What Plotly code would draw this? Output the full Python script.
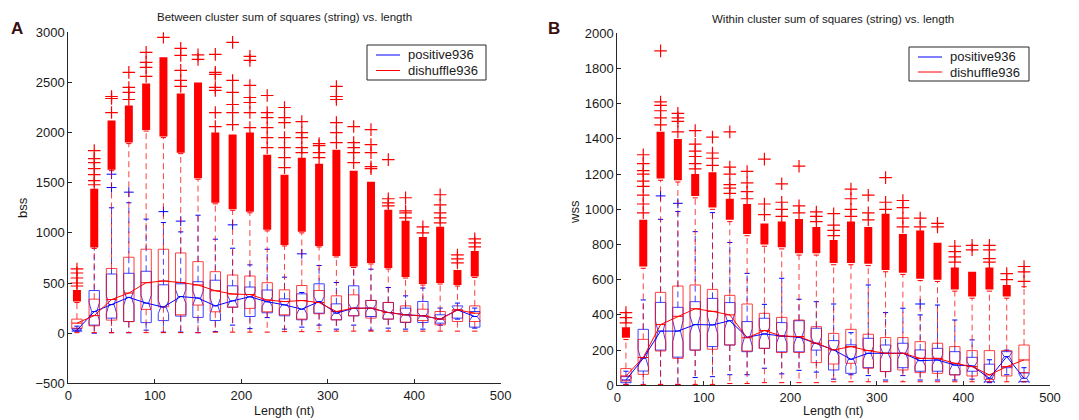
import plotly.graph_objects as go

# ---------------- data ----------------
lengths = [10, 30, 50, 70, 90, 110, 130, 150, 170, 190, 210, 230,
           250, 270, 290, 310, 330, 350, 370, 390, 410, 430, 450, 470]
series_names = ["positive936", "dishuffle936"]

# Panel A : between cluster sum of squares (bss)
A_pos_q1 = [20, 80, 150, 115, 105, 125, 170, 157, 126, 259, 166, 203, 173, 133, 199, 133, 173, 166, 140, 106, 106, 100, 150, 60]
A_pos_med = [30, 215, 285, 357, 300, 260, 365, 350, 272, 322, 363, 313, 282, 239, 315, 199, 249, 249, 206, 183, 173, 140, 232, 166]
A_pos_q3 = [45, 425, 590, 597, 617, 482, 492, 513, 528, 472, 460, 430, 342, 392, 492, 292, 472, 326, 306, 249, 316, 183, 272, 216]
A_pos_wlo = [20, 0, 5, 5, 30, 10, 10, 5, 15, 80, 45, 155, 40, 60, 80, 40, 80, 30, 50, 40, 40, 80, 140, 50]
A_pos_whi = [70, 900, 1250, 1300, 1137, 1103, 1010, 1176, 937, 847, 681, 837, 558, 405, 674, 505, 791, 638, 455, 372, 450, 250, 300, 250]
A_pos_notch = [10, 90, 90, 80, 80, 65, 70, 70, 80, 60, 50, 50, 40, 50, 50, 40, 50, 40, 35, 35, 35, 30, 30, 40]
A_pos_out_x = [50, 50, 70, 110, 130, 190, 270]
A_pos_out_y = [1452, 1585, 1406, 1212, 1117, 1080, 791]

A_neg_q1 = [50, 73, 130, 116, 237, 263, 183, 280, 213, 259, 247, 213, 183, 140, 193, 133, 173, 150, 140, 110, 126, 83, 116, 116]
A_neg_med = [100, 175, 335, 400, 503, 520, 505, 480, 423, 390, 385, 330, 315, 325, 305, 216, 249, 249, 206, 183, 173, 140, 232, 199]
A_neg_q3 = [140, 339, 645, 757, 837, 837, 800, 713, 613, 580, 570, 503, 432, 475, 425, 372, 382, 326, 306, 272, 239, 216, 232, 272]
A_neg_wlo = [5, 5, 5, 5, 5, 5, 5, 5, 10, 10, 10, 10, 15, 15, 15, 20, 20, 20, 20, 20, 20, 20, 20, 20]
A_neg_dense_lo = [315, 855, 1630, 1900, 2025, 1960, 1800, 1545, 1300, 1235, 1210, 1030, 880, 1010, 870, 770, 665, 700, 650, 560, 490, 500, 480, 565]
A_neg_dense_hi = [430, 1440, 2120, 2270, 2490, 2750, 2390, 2500, 2000, 1980, 2000, 1780, 1580, 1750, 1690, 1830, 1620, 1510, 1230, 1120, 960, 1060, 630, 820]
A_neg_sparse = [
    [470, 500, 550, 600, 640],
    [1480, 1520, 1580, 1640, 1700, 1740, 1820],
    [2200, 2340, 2360],
    [2330, 2400, 2450, 2600],
    [2560, 2650, 2700, 2800],
    [2950],
    [2460, 2520, 2620, 2770, 2840],
    [2730, 2775],
    [2060, 2200, 2420, 2450, 2580, 2600, 2780],
    [2080, 2200, 2280, 2400, 2520, 2900],
    [2050, 2200, 2300, 2350, 2470, 2720, 2760],
    [1850, 1950, 2050, 2150, 2200, 2370],
    [1650, 1750, 1850, 1950, 2100, 2150, 2250],
    [1800, 1850, 1950, 2000, 2110],
    [1750, 1800, 1870, 1890],
    [1900, 2000, 2100, 2330, 2360, 2460],
    [1700, 1800, 1850, 1900, 2060],
    [1640, 1660, 1800, 1880, 2030],
    [1270, 1300, 1340, 1730],
    [1150, 1200, 1220, 1350],
    [1000, 1060],
    [1100, 1150, 1200, 1280, 1380],
    [700, 740, 780],
    [860, 900, 940],
]

# Panel B : within cluster sum of squares (wss)
B_pos_q1 = [15, 81, 200, 160, 200, 220, 229, 191, 210, 190, 190, 200, 87, 68, 100, 78, 100, 80, 80, 60, 80, 20, 100, 21]
B_pos_med = [30, 153, 308, 308, 345, 343, 367, 273, 292, 280, 273, 239, 201, 148, 182, 182, 182, 140, 144, 115, 110, 40, 163, 40]
B_pos_q3 = [49, 318, 471, 443, 475, 494, 470, 362, 381, 356, 367, 324, 254, 230, 267, 229, 239, 201, 210, 191, 159, 120, 191, 70]
B_pos_wlo = [5, 0, 0, 5, 44, 49, 60, 60, 97, 65, 85, 75, 35, 60, 55, 30, 55, 30, 30, 30, 35, 15, 60, 20]
B_pos_whi = [80, 485, 943, 987, 873, 981, 811, 636, 460, 608, 489, 475, 462, 299, 570, 413, 438, 400, 456, 371, 258, 145, 200, 100]
B_pos_notch = [8, 50, 60, 60, 50, 50, 45, 50, 40, 40, 40, 35, 35, 40, 40, 35, 35, 30, 30, 30, 25, 25, 25, 25]
B_pos_out_x = [50, 70, 350]
B_pos_out_y = [1076, 1034, 462]

B_neg_q1 = [25, 62, 195, 153, 200, 205, 229, 195, 210, 186, 186, 129, 121, 125, 97, 78, 87, 72, 68, 59, 53, 34, 53, 72]
B_neg_med = [53, 158, 345, 392, 435, 420, 400, 270, 311, 280, 277, 239, 201, 220, 197, 182, 182, 153, 153, 125, 106, 59, 106, 144]
B_neg_q3 = [95, 261, 528, 564, 570, 545, 511, 462, 409, 386, 371, 333, 295, 318, 290, 271, 271, 248, 239, 220, 197, 197, 197, 229]
B_neg_wlo = [5, 5, 5, 5, 5, 5, 10, 10, 15, 15, 15, 15, 20, 20, 20, 20, 20, 20, 20, 20, 20, 20, 20, 20]
B_neg_dense_lo = [270, 675, 1175, 1165, 1075, 1010, 940, 860, 800, 785, 750, 750, 695, 695, 690, 655, 640, 605, 600, 545, 505, 545, 505, None]
B_neg_dense_hi = [330, 940, 1440, 1400, 1200, 1210, 1060, 1030, 920, 930, 945, 900, 825, 930, 900, 975, 860, 880, 810, 670, 645, 670, 570, None]
B_neg_whi_last = 560
B_neg_sparse = [
    [355, 385, 413],
    [980, 1030, 1080, 1130, 1160, 1200, 1220, 1260, 1310],
    [1480, 1520, 1560, 1590, 1610, 1900],
    [1440, 1500, 1520, 1545],
    [1230, 1260, 1300, 1330, 1370, 1447],
    [1250, 1290, 1320, 1410],
    [1090, 1120, 1140, 1200, 1240, 1440],
    [1060, 1100, 1150, 1215],
    [970, 1030, 1285],
    [960, 1000, 1040, 1145],
    [980, 1020, 1245],
    [930, 960, 985],
    [850, 880, 910, 975],
    [960, 1000, 1060, 1115],
    [940, 980, 1080],
    [1000, 1040, 1180],
    [900, 950, 1010, 1050],
    [900, 950],
    [900, 920],
    [700, 730, 760, 790],
    [770, 795],
    [700, 720, 770, 795],
    [600, 635],
    [590, 645, 675],
]

# ---------------- styling ----------------
BLUE = "#0000ff"
RED = "#ff0000"
INK = "#1a1a1a"
HW = 6.0     # half box width (x units)
CAP = 3.0    # half cap width
FONT = "Liberation Sans, Arial, sans-serif"
W, H = 1079, 420

fig = go.Figure()


def axes_of(ax):
    return ("x", "y") if ax == 1 else ("x2", "y2")


def add(xs, ys, color, ax, width=1, dash=None, opacity=1.0):
    xa, ya = axes_of(ax)
    fig.add_trace(go.Scatter(x=xs, y=ys, mode="lines",
                             line=dict(color=color, width=width, dash=dash),
                             opacity=opacity, hoverinfo="skip", showlegend=False,
                             xaxis=xa, yaxis=ya))


def draw_series(ax, q1, med, q3, wlo, whi, color, notch=None):
    bx, by, mx, my, wx, wy, cx, cy = [], [], [], [], [], [], [], []
    for i, x in enumerate(lengths):
        if notch is not None:
            lo, hi = med[i] - notch[i], med[i] + notch[i]
            bx += [x - HW, x + HW, x + HW, x + HW / 2, x + HW, x + HW,
                   x - HW, x - HW, x - HW / 2, x - HW, x - HW, None]
            by += [q1[i], q1[i], lo, med[i], hi, q3[i],
                   q3[i], hi, med[i], lo, q1[i], None]
            mx += [x - HW / 2, x + HW / 2, None]
        else:
            bx += [x - HW, x + HW, x + HW, x - HW, x - HW, None]
            by += [q1[i], q1[i], q3[i], q3[i], q1[i], None]
            mx += [x - HW, x + HW, None]
        my += [med[i], med[i], None]
        wx += [x, x, None, x, x, None]
        wy += [q3[i], whi[i], None, q1[i], wlo[i], None]
        cx += [x - CAP, x + CAP, None, x - CAP, x + CAP, None]
        cy += [whi[i], whi[i], None, wlo[i], wlo[i], None]
    add(wx, wy, color, ax, dash="6px,4px", opacity=0.75)
    add(cx, cy, color, ax)
    add(bx, by, color, ax, opacity=0.75)
    add(mx, my, color, ax)


def draw_outliers(ax, dense_lo, dense_hi, sparse, color):
    dx, dy, ox, oy = [], [], [], []
    for i, x in enumerate(lengths):
        if dense_lo[i] is not None:
            dx += [x, x, None]
            dy += [dense_lo[i], dense_hi[i], None]
        for v in sparse[i]:
            ox.append(x)
            oy.append(v)
    add(dx, dy, color, ax, width=8)
    xa, ya = axes_of(ax)
    fig.add_trace(go.Scatter(x=ox, y=oy, mode="markers",
                             marker=dict(symbol="cross-thin", size=9,
                                         line=dict(color=color, width=1.2)),
                             hoverinfo="skip", showlegend=False, xaxis=xa, yaxis=ya))


def single_out(ax, xs, ys, color):
    xa, ya = axes_of(ax)
    fig.add_trace(go.Scatter(x=xs, y=ys, mode="markers",
                             marker=dict(symbol="cross-thin", size=7,
                                         line=dict(color=color, width=1)),
                             hoverinfo="skip", showlegend=False, xaxis=xa, yaxis=ya))


# ---- Panel A ----
A_neg_whi = [v - 10 for v in A_neg_dense_lo]
draw_series(1, A_pos_q1, A_pos_med, A_pos_q3, A_pos_wlo, A_pos_whi, BLUE, A_pos_notch)
single_out(1, A_pos_out_x, A_pos_out_y, BLUE)
draw_series(1, A_neg_q1, A_neg_med, A_neg_q3, A_neg_wlo, A_neg_whi, RED)
draw_outliers(1, A_neg_dense_lo, A_neg_dense_hi, A_neg_sparse, RED)

# ---- Panel B ----
B_neg_whi = [(v - 10) if v is not None else B_neg_whi_last for v in B_neg_dense_lo]
draw_series(2, B_pos_q1, B_pos_med, B_pos_q3, B_pos_wlo, B_pos_whi, BLUE, B_pos_notch)
single_out(2, B_pos_out_x, B_pos_out_y, BLUE)
draw_series(2, B_neg_q1, B_neg_med, B_neg_q3, B_neg_wlo, B_neg_whi, RED)
draw_outliers(2, B_neg_dense_lo, B_neg_dense_hi, B_neg_sparse, RED)

# median connecting lines
for ax, pm, nm in [(1, A_pos_med, A_neg_med), (2, B_pos_med, B_neg_med)]:
    xa, ya = axes_of(ax)
    fig.add_trace(go.Scatter(x=lengths, y=pm, mode="lines", name=series_names[0],
                             line=dict(color=BLUE, width=1), showlegend=False,
                             xaxis=xa, yaxis=ya))
    fig.add_trace(go.Scatter(x=lengths, y=nm, mode="lines", name=series_names[1],
                             line=dict(color=RED, width=1), showlegend=False,
                             xaxis=xa, yaxis=ya))

axis_common = dict(showline=True, linecolor="#262626", linewidth=1, ticks="inside",
                   ticklen=4, tickcolor="#262626", showgrid=False, zeroline=False,
                   mirror=False, automargin=False,
                   tickfont=dict(family=FONT, size=13, color=INK))

fig.update_layout(
    width=W, height=H, margin=dict(l=0, r=0, t=0, b=0, pad=0),
    paper_bgcolor="white", plot_bgcolor="white", showlegend=False,
    font=dict(family=FONT, size=12, color=INK),
    xaxis=dict(domain=[68.3 / W, 500.7 / W], range=[0, 500], tickvals=[0, 100, 200, 300, 400, 500],
               anchor="y", **axis_common),
    yaxis=dict(domain=[1 - 383.3 / H, 1 - 32.3 / H], range=[-500, 3000],
               tickvals=[-500, 0, 500, 1000, 1500, 2000, 2500, 3000], anchor="x", **axis_common),
    xaxis2=dict(domain=[617.3 / W, 1050 / W], range=[0, 500], tickvals=[0, 100, 200, 300, 400, 500],
                anchor="y2", **axis_common),
    yaxis2=dict(domain=[1 - 385.3 / H, 1 - 33.3 / H], range=[0, 2000],
                tickvals=list(range(0, 2001, 200)), anchor="x2", **axis_common),
)

# manual MATLAB-style legends (paper pixel positions)
for (bx0, by0, bx1, by1, lx0, lx1, tx, ly1, ly2) in [
        (367, 45, 486, 80, 376, 400, 406, 55, 70.5),
        (909, 47, 1029, 81, 918, 942, 948, 57, 72)]:
    fig.add_shape(type="rect", xref="paper", yref="paper",
                  x0=bx0 / W, x1=bx1 / W, y0=1 - by1 / H, y1=1 - by0 / H,
                  line=dict(color="#262626", width=1), fillcolor="white", layer="above")
    for ly, col, name in [(ly1, BLUE, series_names[0]), (ly2, RED, series_names[1])]:
        fig.add_shape(type="line", xref="paper", yref="paper",
                      x0=lx0 / W, x1=lx1 / W, y0=1 - ly / H, y1=1 - ly / H,
                      line=dict(color=col, width=1), layer="above")
        fig.add_annotation(text=name, x=tx / W, y=1 - ly / H, xref="paper", yref="paper",
                           xanchor="left", yanchor="middle", showarrow=False,
                           font=dict(family=FONT, size=13, color=INK))

ann = [
    dict(text="Between cluster sum of squares (string) vs. length", x=284, y=17, size=11.5, angle=0),
    dict(text="Within cluster sum of squares (string) vs. length", x=833, y=19, size=11.5, angle=0),
    dict(text="Length (nt)", x=284, y=411, size=12.5, angle=0),
    dict(text="Length (nt)", x=833, y=411, size=12.5, angle=0),
    dict(text="bss", x=22, y=208, size=13, angle=-90),
    dict(text="wss", x=574, y=212, size=13, angle=-90),
]
for a in ann:
    fig.add_annotation(text=a["text"], x=a["x"] / W, y=1 - a["y"] / H, xref="paper", yref="paper",
                       showarrow=False, xanchor="center", yanchor="middle", textangle=a["angle"],
                       font=dict(family=FONT, size=a["size"], color=INK))
for letter, lx in [("A", 17.5), ("B", 553.5)]:
    fig.add_annotation(text="<b>" + letter + "</b>", x=lx / W, y=1 - 28.5 / H, xref="paper", yref="paper",
                       xanchor="center", yanchor="middle", showarrow=False,
                       font=dict(family=FONT, size=17, color="#3a0f0f"))

fig.write_html("out.html")
